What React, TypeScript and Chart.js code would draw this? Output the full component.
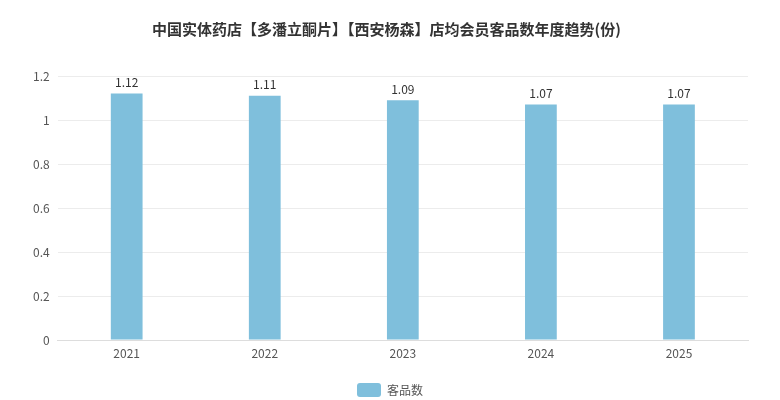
import React, { useEffect, useRef } from 'react';
import { Chart, registerables } from 'chart.js';

Chart.register(...registerables);

const years = ['2021', '2022', '2023', '2024', '2025'];
const itemCounts = [1.12, 1.11, 1.09, 1.07, 1.07];
const seriesName = '客品数';
const chartTitle = '中国实体药店【多潘立酮片】【西安杨森】店均会员客品数年度趋势(份)';

const FONT = "'Noto Sans CJK SC', 'Noto Sans', sans-serif";
const BAR_COLOR = '#7fbfdc';

// draws the value above every bar
const valueLabels = {
  id: 'valueLabels',
  afterDatasetsDraw(chart: any) {
    const ctx = chart.ctx;
    ctx.save();
    ctx.font = `12px ${FONT}`;
    ctx.fillStyle = '#333';
    ctx.textAlign = 'center';
    ctx.textBaseline = 'bottom';
    chart.getDatasetMeta(0).data.forEach((bar: any, i: number) => {
      ctx.fillText(String(itemCounts[i]), bar.x, bar.y - 5);
    });
    ctx.restore();
  },
};

// simple legend at the very bottom
const bottomLegend = {
  id: 'bottomLegend',
  afterDraw(chart: any) {
    const ctx = chart.ctx;
    const ds = chart.data.datasets[0];
    ctx.save();
    ctx.font = `12px ${FONT}`;
    const textW = ctx.measureText(ds.label).width;
    const boxW = 24;
    const gap = 6;
    const total = boxW + gap + textW;
    const x0 = (chart.width - total) / 2;
    const cy = chart.height - 10;
    ctx.fillStyle = ds.backgroundColor;
    ctx.beginPath();
    ctx.roundRect(x0, cy - 7, boxW, 14, 3);
    ctx.fill();
    ctx.fillStyle = '#555';
    ctx.textAlign = 'left';
    ctx.textBaseline = 'middle';
    ctx.fillText(ds.label, x0 + boxW + gap, cy);
    ctx.restore();
  },
};

const App = () => {
  const chartRef = useRef<HTMLCanvasElement>(null);
  const chartInstance = useRef<Chart | null>(null);

  useEffect(() => {
    document.body.style.margin = '0';
    if (!chartRef.current) return;
    if (chartInstance.current) chartInstance.current.destroy();

    chartInstance.current = new Chart(chartRef.current, {
      type: 'bar',
      data: {
        labels: years,
        datasets: [
          {
            label: seriesName,
            data: itemCounts,
            backgroundColor: BAR_COLOR,
            borderWidth: 0,
            barPercentage: 0.23,
            categoryPercentage: 1,
          },
        ],
      },
      options: {
        animation: false,
        responsive: true,
        maintainAspectRatio: false,
        layout: { padding: { left: 25, right: 32, top: 0, bottom: 22 } },
        plugins: {
          title: {
            display: true,
            text: chartTitle,
            color: '#333',
            font: { family: FONT, size: 15, weight: 'bold' },
            padding: { top: 20, bottom: 38 },
          },
          legend: { display: false },
          tooltip: { enabled: false },
        },
        scales: {
          y: {
            min: 0,
            max: 1.2,
            ticks: {
              stepSize: 0.2,
              color: '#555',
              font: { family: FONT, size: 12 },
              padding: 8,
              callback: (value: any) => String(Number(Number(value).toFixed(1))),
            },
            grid: { color: '#ececec', drawTicks: false },
            border: { display: false },
          },
          x: {
            ticks: { color: '#555', font: { family: FONT, size: 12 }, padding: 6 },
            grid: { display: false, drawTicks: false },
            border: { color: '#ddd' },
            afterFit: (scale: any) => {
              scale.height = 38;
            },
          },
        },
      },
      plugins: [valueLabels, bottomLegend],
    });

    return () => {
      if (chartInstance.current) {
        chartInstance.current.destroy();
        chartInstance.current = null;
      }
    };
  }, []);

  return (
    <div style={{ width: 780, height: 400, background: '#fff' }}>
      <canvas ref={chartRef} />
    </div>
  );
};

export default App;
